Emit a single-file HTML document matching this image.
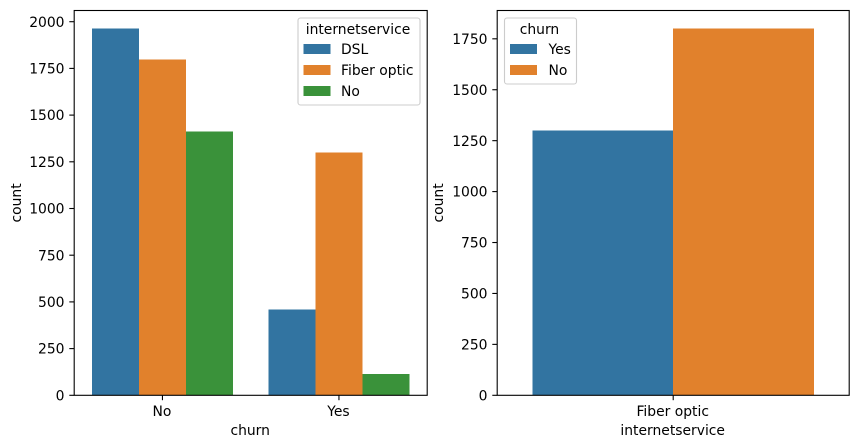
<!DOCTYPE html>
<html lang="en">
<head>
<meta charset="utf-8">
<title>Churn by internet service</title>
<style>
  html, body { margin: 0; padding: 0; background: #fff; }
  svg { display: block; }
  text { font-family: "DejaVu Sans", "Liberation Sans", sans-serif; font-size: 13.89px; fill: #000; }
</style>
</head>
<body>
<svg id="figure" xmlns="http://www.w3.org/2000/svg" width="859" height="448" viewBox="0 0 859 448"></svg>
<script>
// Left chart data
const leftCategories = ['No', 'Yes'];
const leftHues = ['DSL', 'Fiber optic', 'No'];
const leftDsl = [1964, 459];
const leftFiber = [1799, 1300];
const leftNone = [1413, 113];
const leftTicks = [0, 250, 500, 750, 1000, 1250, 1500, 1750, 2000];
const leftYMax = 2060;

// Right chart data
const rightCategories = ['Fiber optic'];
const rightHues = ['Yes', 'No'];
const rightYes = [1300];
const rightNo = [1800];
const rightTicks = [0, 250, 500, 750, 1000, 1250, 1500, 1750];
const rightYMax = 1889;

const palette = ['#3274a1', '#e1812c', '#3a923a'];
const NS = 'http://www.w3.org/2000/svg';
const fig = document.getElementById('figure');

function make(parent, tag, attrs, text) {
  const el = document.createElementNS(NS, tag);
  for (const k in attrs) el.setAttribute(k, attrs[k]);
  if (text !== undefined) el.textContent = text;
  parent.appendChild(el);
  return el;
}

function drawChart(cfg) {
  const g = make(fig, 'g', {});
  
  

  const box = cfg.box;
  const yScale = v => box.bottom - (v / cfg.yMax) * (box.bottom - box.top);
  const band = (box.right - box.left) / cfg.categories.length;
  const xScale = i => box.left + band * (i + 0.5);
  const barW = band * 0.8 / cfg.series.length;

  // Bars
  cfg.series.forEach((values, s) => {
    values.forEach((v, i) => {
      const x = xScale(i) - band * 0.4 + s * barW;
      const y = yScale(v);
      const bar = make(g, 'rect', { x: x, y: y, width: barW, height: box.bottom - y, fill: palette[s], 'shape-rendering': 'crispEdges' });
      
      
    });
  });

  // Y ticks
  cfg.ticks.forEach(t => {
    const y = yScale(t);
    const tick = make(g, 'line', { x1: box.left - 4.9, x2: box.left, y1: y, y2: y, stroke: '#000', 'stroke-width': 1.1 });
    
    
    const label = make(g, 'text', { x: box.left - 9.7, y: y + 5.1, 'text-anchor': 'end' }, String(t));
    
    
  });

  // X ticks
  cfg.categories.forEach((c, i) => {
    const x = xScale(i);
    const tick = make(g, 'line', { x1: x, x2: x, y1: box.bottom, y2: box.bottom + 4.9, stroke: '#000', 'stroke-width': 1.1 });
    
    
    const label = make(g, 'text', { x: x - 0.5, y: 416, 'text-anchor': 'middle' }, c);
    
    
  });

  // Frame
  const frame = make(g, 'rect', { x: box.left, y: box.top, width: box.right - box.left, height: box.bottom - box.top, fill: 'none', stroke: '#000', 'stroke-width': 1.1 });
  
  

  // Axis titles
  const xTitle = make(g, 'text', { x: (box.left + box.right) / 2 - 0.5, y: 435, 'text-anchor': 'middle' }, cfg.xTitle);
  
  
  const yMid = (box.top + box.bottom) / 2;
  const yTitle = make(g, 'text', { x: cfg.yTitleX, y: yMid, 'text-anchor': 'middle', transform: 'rotate(-90 ' + cfg.yTitleX + ' ' + yMid + ')' }, 'count');
  
  

  // Legend
  const lg = cfg.legend;
  const legend = make(g, 'g', {});
  
  
  make(legend, 'rect', { x: lg.x, y: lg.y, width: lg.w, height: lg.h, rx: 2.5, fill: '#fff', 'fill-opacity': 0.8, stroke: '#cccccc', 'stroke-width': 1.1 });
  const lgTitle = make(legend, 'text', { x: lg.x + lg.w / 2 - 1, y: 34, 'text-anchor': 'middle' }, cfg.legendTitle);
  
  
  cfg.hues.forEach((h, s) => {
    const entry = make(legend, 'g', {});
    
    
    const rowY = 44 + s * 21;
    make(entry, 'rect', { x: lg.x + 5.5, y: rowY, width: 27, height: 10, fill: palette[s], 'shape-rendering': 'crispEdges' });
    make(entry, 'text', { x: lg.x + 5.5 + 27 + lg.textGap, y: rowY + 10 }, h);
  });
}

drawChart({
  name: 'left-chart',
  box: { left: 74.2, right: 427.2, top: 10.5, bottom: 395.3 },
  categories: leftCategories,
  hues: leftHues,
  series: [leftDsl, leftFiber, leftNone],
  ticks: leftTicks,
  yMax: leftYMax,
  xTitle: 'churn',
  yTitleX: 21,
  legendTitle: 'internetservice',
  legend: { x: 298, y: 18, w: 122, h: 87, textGap: 10.5 }
});

drawChart({
  name: 'right-chart',
  box: { left: 497.2, right: 849.2, top: 10.5, bottom: 395.3 },
  categories: rightCategories,
  hues: rightHues,
  series: [rightYes, rightNo],
  ticks: rightTicks,
  yMax: rightYMax,
  xTitle: 'internetservice',
  yTitleX: 443,
  legendTitle: 'churn',
  legend: { x: 504.5, y: 18, w: 72, h: 66, textGap: 11.5 }
});
</script>
</body>
</html>
